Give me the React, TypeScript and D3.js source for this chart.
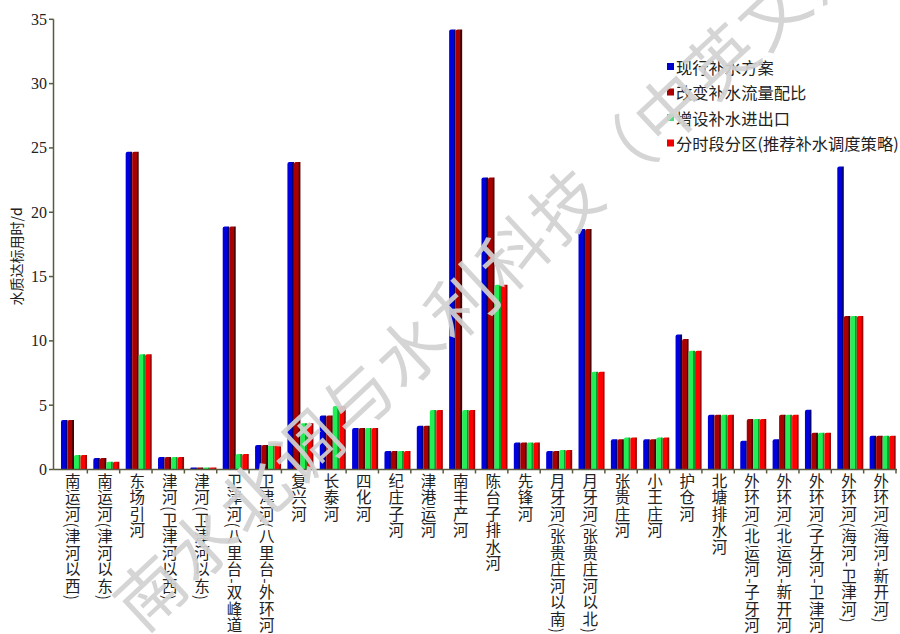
import React from 'react';
import * as d3 from 'd3';

const categories = [
  '南运河(津河以西)', '南运河(津河以东)', '东场引河', '津河(卫津河以西)', '津河(卫津河以东)',
  '卫津河(八里台-双峰道)', '卫津河(八里台-外环河)', '复兴河', '长泰河', '四化河', '纪庄子河',
  '津港运河', '南丰产河', '陈台子排水河', '先锋河', '月牙河(张贵庄河以南)', '月牙河(张贵庄河以北)',
  '张贵庄河', '小王庄河', '护仓河', '北塘排水河', '外环河(北运河-子牙河)', '外环河(北运河-新开河)',
  '外环河(子牙河-卫津河)', '外环河(海河-卫津河)', '外环河(海河-新开河)'
];

const seriesNames = ['现行补水方案', '改变补水流量配比', '增设补水进出口', '分时段分区(推荐补水调度策略)'];

const current = [3.85, 0.9, 24.7, 0.97, 0.15, 18.9, 1.9, 23.9, 4.2, 3.23, 1.44, 3.4, 34.2, 22.7, 2.1, 1.44, 18.7, 2.35, 2.35, 10.5, 4.26, 2.24, 2.35, 4.65, 23.55, 2.63];
const flowRatio = [3.85, 0.9, 24.7, 0.97, 0.15, 18.9, 1.9, 23.9, 4.2, 3.23, 1.44, 3.4, 34.2, 22.7, 2.1, 1.44, 18.7, 2.35, 2.35, 10.15, 4.26, 3.93, 4.26, 2.86, 11.94, 2.63];
const addOutlets = [1.12, 0.6, 8.96, 0.97, 0.15, 1.2, 2.04, 3.6, 4.94, 3.23, 1.44, 4.63, 4.63, 14.37, 2.1, 1.52, 7.6, 2.48, 2.48, 9.24, 4.26, 3.93, 4.26, 2.86, 11.94, 2.63];
const zoned = [1.12, 0.6, 8.96, 0.97, 0.15, 1.2, 2.04, 3.6, 4.94, 3.23, 1.44, 4.63, 4.63, 14.37, 2.1, 1.52, 7.6, 2.48, 2.48, 9.24, 4.26, 3.93, 4.26, 2.86, 11.94, 2.63];

const yTicks = [0, 5, 10, 15, 20, 25, 30, 35];

const seriesValues = [current, flowRatio, addOutlets, zoned];
const seriesMain = ['#0000dd', '#a80000', '#22ee55', '#ff0000'];
const seriesDark = ['#000077', '#4a0000', '#0a9a2a', '#a00000'];
const legendColors = ['#0000cc', '#aa0000', '#44dd77', '#ee0000'];

const W = 900;
const H = 634;
const left = 55;
const right = 896;
const top = 19.3;
const bottom = 469.5;

export default function App() {
  const x0 = d3.scaleBand().domain(categories).range([left, right]).padding(0);
  const bw = x0.bandwidth();
  const x1 = d3.scaleBand().domain(d3.range(4).map(String)).range([bw * 0.185, bw * 0.99]).padding(0);
  const y = d3.scaleLinear().domain([0, 35]).range([bottom, top]);
  const axisColor = '#5a5a40';

  return (
    <svg width={W} height={H} style={{ position: 'absolute', left: 0, top: 0, background: '#fff' }}>
      <defs>
        {seriesMain.map((c, i) => (
          <linearGradient key={i} id={`g${i}`} x1="0" x2="1" y1="0" y2="0">
            <stop offset="0" stopColor={c} />
            <stop offset="0.68" stopColor={c} />
            <stop offset="0.75" stopColor={seriesDark[i]} />
            <stop offset="1" stopColor={seriesDark[i]} />
          </linearGradient>
        ))}
      </defs>
      <rect x={0} y={0} width={W} height={H} fill="#fff" />

      {/* bars */}
      {categories.map((cat, ci) => (
        <g key={cat} transform={`translate(${x0(cat)},0)`}>
          {seriesValues.map((vals, si) => {
            const v = vals[ci];
            const bx = x1(String(si))!;
            const w = x1.bandwidth();
            const yt = y(v);
            const h = bottom - yt;
            const r = Math.min(2, h / 2);
            const path = `M${bx},${bottom} L${bx},${yt + r} Q${bx},${yt} ${bx + r},${yt} L${bx + w},${yt} L${bx + w},${bottom} Z`;
            return <path key={si} d={path} fill={`url(#g${si})`} />;
          })}
        </g>
      ))}

      {/* y axis */}
      <line x1={left - 1.5} x2={left - 1.5} y1={top} y2={bottom} stroke={axisColor} strokeWidth={1.5} />
      {yTicks.map((t) => (
        <g key={t}>
          <line x1={left - 6} x2={left - 1.5} y1={y(t)} y2={y(t)} stroke={axisColor} strokeWidth={1.5} />
          <text x={left - 8} y={y(t)} textAnchor="end" dominantBaseline="central" fontFamily="'Liberation Serif', 'Times New Roman', serif" fontSize={16} fill="#222">
            {t}
          </text>
        </g>
      ))}
      <text
        transform={`translate(16,${(top + bottom) / 2 + 12}) rotate(-90)`}
        textAnchor="middle"
        dominantBaseline="central"
        fontFamily="'Noto Sans CJK SC', sans-serif"
        fontSize={14}
        fill="#222"
      >
        水质达标用时/d
      </text>

      {/* x axis */}
      <line x1={left - 1.5} x2={right + 1} y1={bottom} y2={bottom} stroke={axisColor} strokeWidth={1.5} />
      {categories.map((cat, ci) => (
        <line key={`t${ci}`} x1={x0(cat)! + bw} x2={x0(cat)! + bw} y1={bottom} y2={bottom + 4} stroke={axisColor} strokeWidth={1.5} />
      ))}
      {categories.map((cat) => (
        <text
          key={`l${cat}`}
          x={x0(cat)! + bw / 2 + 1.5}
          y={473}
          style={{ writingMode: 'vertical-rl' }}
          fontFamily="'Noto Sans CJK SC', sans-serif"
          fontSize={15.5}
          letterSpacing={1}
          fill="#222"
        >
          {cat}
        </text>
      ))}

      {/* legend */}
      {seriesNames.map((n, i) => (
        <g key={n} transform={`translate(667,${66.5 + i * 25.5})`}>
          <rect x={0} y={-3.5} width={7} height={7} fill={legendColors[i]} />
          <text x={9} y={0} dominantBaseline="central" fontFamily="'Noto Sans CJK SC', sans-serif" fontSize={16.3} fill="#222">
            {n}
          </text>
        </g>
      ))}

      {/* watermark */}
      <text
        transform={`translate(486,274) rotate(-43)`}
        textAnchor="middle"
        dominantBaseline="central"
        fontFamily="'Noto Sans CJK SC', sans-serif"
        fontSize={68}
        fontWeight={400}
        letterSpacing={3}
        fill="#d2d2d2"
        opacity={0.92}
      >
        南水北调与水利科技（中英文）
      </text>
    </svg>
  );
}
